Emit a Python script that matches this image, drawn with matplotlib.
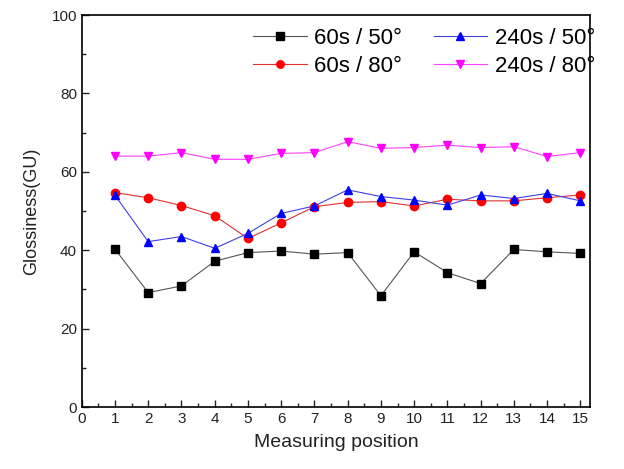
import matplotlib.pyplot as plt
import numpy as np
from matplotlib.ticker import MultipleLocator

plt.rcParams["font.family"] = ["Liberation Sans", "DejaVu Sans"]

positions = np.arange(1, 16)

gloss_60_50 = [40.3, 29.2, 30.9, 37.2, 39.4, 39.8, 39.0, 39.4, 28.4, 39.6,
               34.3, 31.5, 40.2, 39.6, 39.2]
gloss_60_80 = [54.7, 53.4, 51.4, 48.8, 43.0, 47.0, 51.1, 52.2, 52.4, 51.3,
               53.0, 52.6, 52.6, 53.4, 54.1]
gloss_240_50 = [54.0, 42.2, 43.5, 40.5, 44.3, 49.4, 51.3, 55.4, 53.7, 52.8,
                51.5, 54.1, 53.2, 54.5, 52.6]
gloss_240_80 = [64.0, 64.0, 64.9, 63.2, 63.2, 64.7, 64.9, 67.7, 66.0, 66.2,
                66.8, 66.2, 66.4, 63.9, 64.9]

fig = plt.figure(figsize=(6.24, 4.69), dpi=100)
ax = fig.add_axes([0.131, 0.132, 0.815, 0.836])

series = [
    (gloss_60_50, "60s / 50°", "#000000", "#555555", "s"),
    (gloss_60_80, "60s / 80°", "#ff0000", "#e03030", "o"),
    (gloss_240_50, "240s / 50°", "#0000ff", "#4040e0", "^"),
    (gloss_240_80, "240s / 80°", "#ff00ff", "#ff40ff", "v"),
]
for vals, label, mcol, lcol, mk in series:
    ax.plot(positions, vals, color=lcol, lw=0.8, marker=mk, ms=6,
            mfc=mcol, mec=mcol, label=label)

ax.set_xlim(0, 15.3)
ax.set_ylim(0, 100)
ax.xaxis.set_major_locator(MultipleLocator(1))
ax.xaxis.set_minor_locator(MultipleLocator(0.5))
ax.yaxis.set_major_locator(MultipleLocator(20))
ax.yaxis.set_minor_locator(MultipleLocator(10))
ax.tick_params(which="both", direction="in", labelsize=11, colors="#222222")
ax.tick_params(which="major", length=5, width=1)
ax.tick_params(which="minor", length=3, width=1)
for s in ax.spines.values():
    s.set_linewidth(1.2)

ax.set_xlabel("Measuring position", fontsize=14, color="#222222", labelpad=6)
ax.set_ylabel("Glossiness(GU)", fontsize=13, color="#222222", labelpad=8)

ax.legend(ncol=2, loc="upper right", frameon=False, fontsize=16,
          handlelength=2.4, columnspacing=1.4, handletextpad=0.35,
          labelspacing=0.3, markerscale=0.9, borderpad=0, borderaxespad=0,
          bbox_to_anchor=(595 / 624, 1 - 28 / 469),
          bbox_transform=fig.transFigure)

fig.savefig("out.png", dpi=100)
